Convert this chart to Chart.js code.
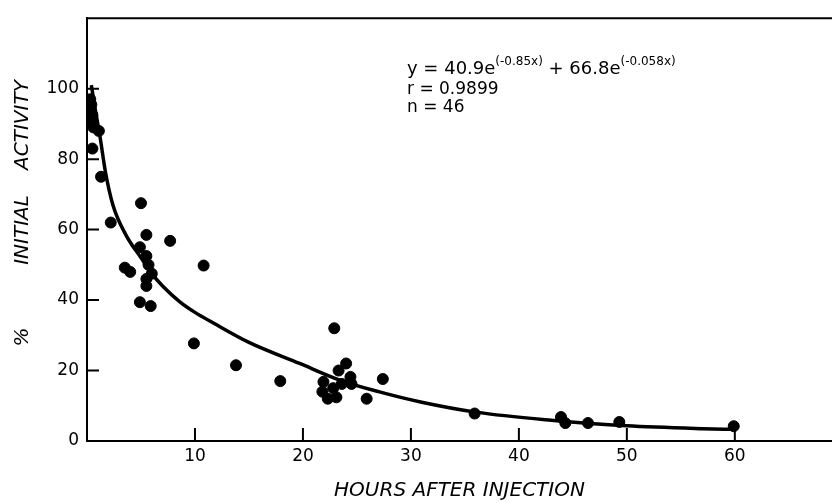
<!DOCTYPE html>
<html lang="en">
<head>
    <meta charset="UTF-8">
    <title>% Initial Activity vs Hours</title>
    <script src="https://cdn.jsdelivr.net/npm/chart.js"></script>
    <style>
        html, body { margin: 0; padding: 0; background: #fff; }
        #wrap { width: 832px; height: 503px; position: relative; }
    </style>
</head>
<body>
    <div id="wrap"><canvas id="activityChart"></canvas></div>
    <script>
        // observed points (hours, % initial activity)
        const hours = [
            0.3, 0.4, 0.3, 0.5, 0.4, 0.6, 1.1, 0.5, 1.3, 2.2,
            5.0, 5.5, 7.7, 4.9, 5.5, 5.7, 3.5, 4.0, 10.8, 6.0, 5.5, 5.5, 4.9, 5.9,
            9.9, 13.8, 17.9,
            22.9, 24.0, 23.3, 21.9, 24.4, 24.5, 23.6, 22.8, 21.8, 22.3, 23.1, 27.4, 25.9,
            35.9, 43.9, 44.3, 46.4, 49.3, 59.9
        ];
        const activity = [
            97, 95.5, 94, 92.5, 90.5, 89, 88, 83, 75, 62,
            67.5, 58.5, 56.8, 55, 52.5, 50, 49.2, 48, 49.8, 47.5, 46, 44, 39.4, 38.3,
            27.7, 21.5, 17,
            32, 22, 20, 16.8, 18.2, 16.2, 16.2, 15, 14, 12, 12.4, 17.6, 12,
            7.8, 6.8, 5.1, 5.1, 5.4, 4.2
        ];

        // fitted curve
        const fitHours = [0.4, 0.8, 1.2, 1.7, 2.4, 3.6, 5, 6, 7, 8.6, 10, 11.7, 15, 19.7, 23.4, 27, 31, 36, 43, 50, 57, 60];
        const fitActivity = [101, 93.5, 86.5, 76.5, 67, 58.5, 52, 47.5, 44, 39.5, 36.5, 33.5, 28, 22, 17.3, 14, 11, 8.2, 5.9, 4.3, 3.5, 3.3];

        const xTickValues = [10, 20, 30, 40, 50, 60];
        const yTickValues = [0, 20, 40, 60, 80, 100];

        const tickFont = { family: 'DejaVu Sans', size: 17 };
        const titleFont = { family: 'DejaVu Sans', size: 20, style: 'italic' };

        // ticks pointing into the plot, top frame line, y title and the equation text
        const framePlugin = {
            id: 'frame',
            afterDraw(chart) {
                const { ctx, chartArea: a, scales: { x, y } } = chart;
                ctx.save();
                ctx.strokeStyle = '#000';
                ctx.lineWidth = 2;
                ctx.beginPath();
                ctx.moveTo(a.left, a.top);
                ctx.lineTo(a.right, a.top);
                xTickValues.forEach(v => {
                    const px = x.getPixelForValue(v);
                    ctx.moveTo(px, a.bottom);
                    ctx.lineTo(px, a.bottom - 13);
                });
                yTickValues.filter(v => v > 0).forEach(v => {
                    const py = y.getPixelForValue(v);
                    ctx.moveTo(a.left, py);
                    ctx.lineTo(a.left + 12, py);
                });
                ctx.stroke();

                // y axis title, words spaced like the original
                ctx.fillStyle = '#000';
                ctx.font = 'italic 20px "DejaVu Sans"';
                ctx.textAlign = 'center';
                ctx.textBaseline = 'middle';
                ctx.translate(23, 0);
                ctx.rotate(-Math.PI / 2);
                ctx.fillText('ACTIVITY', -125, 0);
                ctx.fillText('INITIAL', -230, 0);
                ctx.fillText('%', -337, 0);
                ctx.restore();

                // equation block
                ctx.save();
                ctx.fillStyle = '#000';
                ctx.textAlign = 'left';
                ctx.textBaseline = 'alphabetic';
                const parts = [
                    ['y = 40.9e', 18, 0],
                    ['(-0.85x)', 12, -9],
                    [' + 66.8e', 18, 0],
                    ['(-0.058x)', 12, -9]
                ];
                let cx = 407;
                parts.forEach(([t, s, dy]) => {
                    ctx.font = s + 'px "DejaVu Sans"';
                    ctx.fillText(t, cx, 74 + dy);
                    cx += ctx.measureText(t).width;
                });
                ctx.font = '17px "DejaVu Sans"';
                ctx.fillText('r = 0.9899', 407, 94);
                ctx.fillText('n = 46', 407, 112);
                ctx.restore();
            }
        };

        new Chart(document.getElementById('activityChart'), {
            data: {
                datasets: [
                    {
                        type: 'scatter',
                        data: hours.map((h, i) => ({ x: h, y: activity[i] })),
                        backgroundColor: '#000',
                        borderColor: '#000',
                        pointRadius: 5.5,
                        pointHoverRadius: 5.5
                    },
                    {
                        type: 'line',
                        data: fitHours.map((h, i) => ({ x: h, y: fitActivity[i] })),
                        borderColor: '#000',
                        borderWidth: 3.5,
                        pointRadius: 0,
                        fill: false,
                        cubicInterpolationMode: 'monotone'
                    }
                ]
            },
            options: {
                responsive: true,
                maintainAspectRatio: false,
                animation: false,
                layout: { autoPadding: false, padding: { top: 10, right: 0, left: 0, bottom: 0 } },
                plugins: { legend: { display: false }, tooltip: { enabled: false } },
                scales: {
                    x: {
                        type: 'linear',
                        min: 0,
                        max: 69,
                        afterFit: s => { s.height = 62; },
                        afterBuildTicks: s => { s.ticks = xTickValues.map(v => ({ value: v })); },
                        grid: { display: false, drawTicks: false },
                        border: { display: true, color: '#000', width: 2 },
                        ticks: { color: '#000', font: tickFont, padding: 5, maxRotation: 0 },
                        title: {
                            display: true,
                            text: 'HOURS AFTER INJECTION',
                            color: '#000',
                            font: titleFont,
                            padding: { top: 0, bottom: 0 }
                        }
                    },
                    y: {
                        type: 'linear',
                        min: 0,
                        max: 120,
                        afterFit: s => { s.width = 87; },
                        afterBuildTicks: s => { s.ticks = yTickValues.map(v => ({ value: v })); },
                        grid: { display: false, drawTicks: false },
                        border: { display: true, color: '#000', width: 2 },
                        ticks: { color: '#000', font: tickFont, padding: 8 }
                    }
                }
            },
            plugins: [framePlugin]
        });
    </script>
</body>
</html>
